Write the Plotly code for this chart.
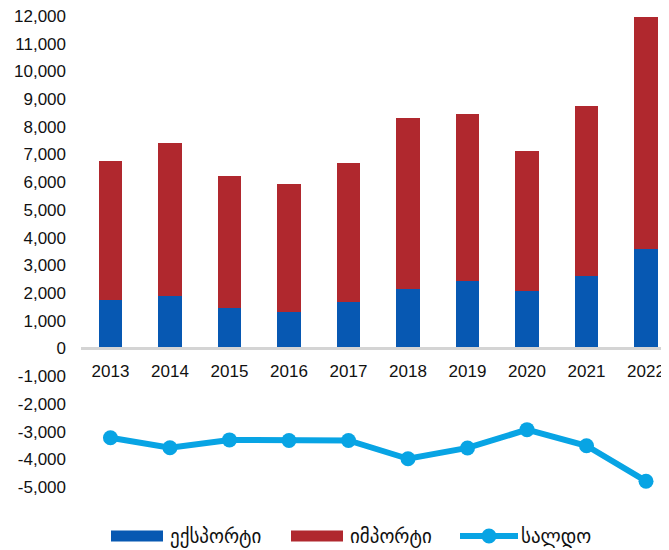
import plotly.graph_objects as go

years = ["2013", "2014", "2015", "2016", "2017", "2018", "2019", "2020", "2021", "2022"]
exports = [1740, 1910, 1450, 1310, 1680, 2160, 2440, 2080, 2610, 3580]
imports = [5010, 5500, 4760, 4640, 5010, 6150, 6020, 5030, 6150, 8400]
balance = [-3220, -3580, -3300, -3320, -3320, -3980, -3590, -2930, -3510, -4790]

y_ticks = list(range(-5000, 12001, 1000))
y_ticktext = [f"{v:,}" for v in y_ticks]

legend_names = ["ექსპორტი", "იმპორტი", "სალდო"]

C_EXP = "#0758B2"
C_IMP = "#B0282E"
C_BAL = "#08A4E4"

OFF = 8  # page body margin
W, H = 669 - OFF, 550 - OFF
ML, MR, MT = 81 - OFF, 0, 8 - OFF
MB = H - (505 - OFF)
PW, PH = W - ML - MR, H - MT - MB

YMIN, YMAX = -5649, 12289
zero_frac = (0 - YMIN) / (YMAX - YMIN)

FONT = "Liberation Sans, Arial, sans-serif"
GEO_FONT = "DejaVu Sans, Noto Sans Georgian, sans-serif"

fig = go.Figure()
fig.add_trace(go.Bar(x=list(range(len(years))), y=exports, name=legend_names[0],
                     marker=dict(color=C_EXP, line=dict(width=0)), width=0.40, showlegend=False))
fig.add_trace(go.Bar(x=list(range(len(years))), y=imports, name=legend_names[1],
                     marker=dict(color=C_IMP, line=dict(width=0)), width=0.40, showlegend=False))
fig.add_trace(go.Scatter(x=list(range(len(years))), y=balance, name=legend_names[2],
                         mode="lines+markers", line=dict(color=C_BAL, width=6),
                         marker=dict(color=C_BAL, size=15), showlegend=False))

# reference-page pixel -> paper fraction
def px_x(p):
    return (p - OFF - ML) / PW

def px_y(p):
    return (H - MB - (p - OFF)) / PH

ly = 536
items = [
    ("rect", C_EXP, 111, 163, 168, legend_names[0]),
    ("rect", C_IMP, 291, 343, 348, legend_names[1]),
    ("line", C_BAL, 460, 518, 519, legend_names[2]),
]
shapes = []
annotations = []
for kind, col, x0, x1, tx, label in items:
    if kind == "rect":
        shapes.append(dict(type="rect", xref="paper", yref="paper",
                           x0=px_x(x0), x1=px_x(x1), y0=px_y(ly + 5.5), y1=px_y(ly - 5.5),
                           fillcolor=col, line=dict(width=0)))
    else:
        shapes.append(dict(type="line", xref="paper", yref="paper",
                           x0=px_x(x0), x1=px_x(x1), y0=px_y(ly), y1=px_y(ly),
                           line=dict(color=col, width=6)))
        cx = (x0 + x1) / 2
        shapes.append(dict(type="circle", xref="paper", yref="paper",
                           x0=px_x(cx - 7.5), x1=px_x(cx + 7.5), y0=px_y(ly + 7.5), y1=px_y(ly - 7.5),
                           fillcolor=col, line=dict(width=0)))
    annotations.append(dict(xref="paper", yref="paper", x=px_x(tx), y=px_y(ly),
                            text=label, showarrow=False, xanchor="left", yanchor="middle",
                            font=dict(family=GEO_FONT, size=19, color="#111111")))

fig.update_layout(
    width=W, height=H,
    margin=dict(l=ML, r=MR, t=MT, b=MB, pad=0),
    barmode="stack",
    plot_bgcolor="white", paper_bgcolor="white",
    font=dict(family=FONT, size=17, color="#111111"),
    showlegend=False,
    shapes=shapes, annotations=annotations,
    xaxis=dict(
        tickmode="array", tickvals=list(range(len(years))), ticktext=years,
        range=[-0.495, 9.386], anchor="free", position=zero_frac,
        showline=True, linecolor="#D4D4D4", linewidth=3,
        showgrid=False, zeroline=False, ticks="", ticklabelstandoff=6,
        ticklabeloverflow="allow",
        tickfont=dict(family=FONT, size=17, color="#111111"),
    ),
    yaxis=dict(
        range=[YMIN, YMAX], tickmode="array", tickvals=y_ticks, ticktext=y_ticktext,
        showgrid=False, zeroline=False, showline=False, ticks="",
        ticklabelstandoff=14, ticklabeloverflow="allow",
        tickfont=dict(family=FONT, size=17, color="#111111"),
    ),
)

fig.write_html("out.html")
